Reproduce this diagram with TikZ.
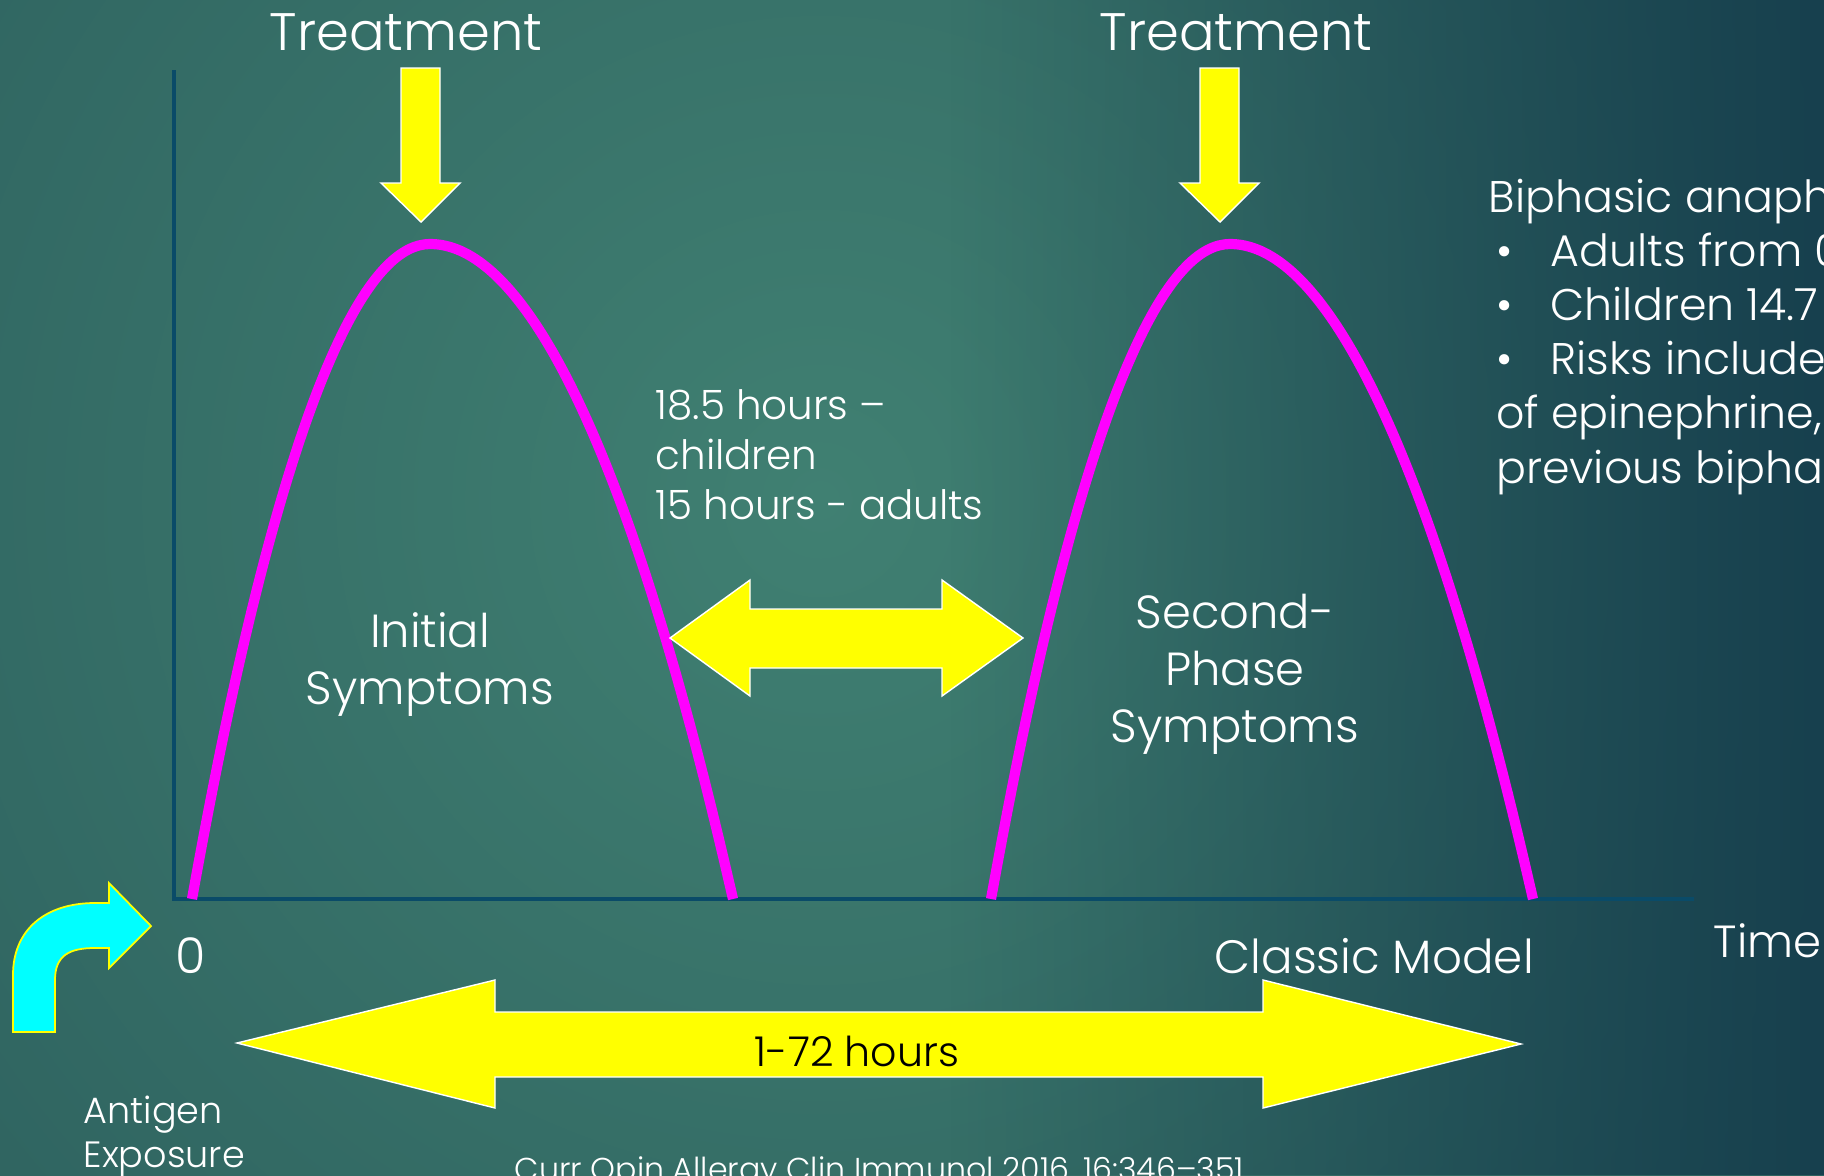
\documentclass[tikz,border=0pt]{standalone}
\usepackage{fontspec}
\setmainfont{Poppins Light}
\usetikzlibrary{positioning, fadings}
\definecolor{bgdark}{HTML}{17404E}
\definecolor{bgmid}{HTML}{285859}
\definecolor{bglight}{HTML}{408072}
\definecolor{axisblue}{HTML}{0A4B68}
\definecolor{peakpink}{HTML}{FF00FF}
\definecolor{fatyellow}{HTML}{FFFF00}
\definecolor{bendcyan}{HTML}{00FFFF}
% fat yellow arrow pointing down at a peak, #1 = x of its tip
\newcommand{\dosearrow}[1]{%
  \filldraw[fatyellow, draw=white, line width=0.4pt]
    (#1-20,68) -- (#1+19,68) -- (#1+19,183) -- (#1+39,183) -- (#1,222)
    -- (#1-40,183) -- (#1-20,183) -- cycle;}

\begin{document}
\begin{tikzpicture}[x=0.01cm, y=-0.01cm,
      lbl/.style={text=white, inner sep=0pt, anchor=base},
      big/.style={lbl, font=\fontsize{13.2}{16.2}\selectfont, align=center},
      small/.style={lbl, font=\fontsize{11.5}{14.2}\selectfont, align=left},
      axis/.style={draw=axisblue, line width=1.4pt},
      peak/.style={draw=peakpink, line width=2.9pt},
      fat/.style={fill=fatyellow, draw=white, line width=0.4pt}]
    \useasboundingbox (0,0) rectangle (1824,1175);
    \clip (0,0) rectangle (1824,1175);
    % background
    \fill[bgmid] (0,0) rectangle (1824,1175);
    \shade[inner color=bglight, outer color=bgmid] (820,500) circle (1550);
    \fill[bgdark, path fading=west] (950,0) rectangle (1824,1175);
    % axes
    \draw[axis] (174,70) -- (174,899) -- (1694,899);
    % the two phases
    \draw[peak] (192,899) parabola bend (430,244) (733,899);
    \draw[peak] (991,899) parabola bend (1230,244) (1533,899);
    \dosearrow{421}
    \dosearrow{1220}
    \node[big, font=\fontsize{15}{16}\selectfont] (treat1) at (406,50) {Treatment};
    \node[big, font=\fontsize{15}{16}\selectfont] (treat2) at (1236,50) {Treatment};
    \node[big] (initial) at (430,704) {Initial\\Symptoms};
    \node[big] (second) at (1235,742) {Second-\\Phase\\Symptoms};
    % gap between phases
    \fill[fat] (670,638) -- (750,580) -- (750,609) -- (942,609) -- (942,580)
      -- (1023,638) -- (942,696) -- (942,668) -- (750,668) -- (750,696) -- cycle;
    \node[small, anchor=base west] (gap) at (655,519)
      {18.5 hours --\\children\\15 hours - adults};
    % whole span
    \fill[fat] (237,1043) -- (495,980) -- (495,1012) -- (1263,1012) -- (1263,980)
      -- (1521,1044) -- (1263,1108) -- (1263,1077) -- (495,1077) -- (495,1108) -- cycle;
    \node[lbl, text=black, font=\fontsize{11.7}{14}\selectfont] (span) at (857,1066) {1-72 hours};
    % exposure
    \filldraw[fill=bendcyan, draw=fatyellow, line width=0.5pt]
      (13,1032) -- (13,975) .. controls (13,930) and (45,903) .. (95,903)
      -- (109,903) -- (109,883) -- (151,926) -- (109,968) -- (109,948) -- (95,948)
      .. controls (70,948) and (55,955) .. (55,980) -- (55,1032) -- cycle;
    \node[lbl, font=\fontsize{14}{16}\selectfont] (zero) at (191,973) {0};
    \node[small, anchor=base west, font=\fontsize{10.4}{12.5}\selectfont] (antigen) at (83,1167)
      {Antigen\\Exposure};
    \node[lbl, anchor=base west, font=\fontsize{13.3}{16}\selectfont] (classic) at (1214,973) {Classic Model};
    \node[lbl, anchor=base west, font=\fontsize{12.8}{16}\selectfont] (time) at (1713,957) {Time};
    % side notes
    \node[small, anchor=base west, font=\fontsize{12.6}{15.4}\selectfont] (notes) at (1488,483)
      {Biphasic anaph\\
       \makebox[17.6pt][l]{\,\textbullet}Adults from 0\\
       \makebox[17.6pt][l]{\,\textbullet}Children 14.7\\
       \makebox[17.6pt][l]{\,\textbullet}Risks include:\\
       \,of epinephrine,\\
       \,previous bipha};
    \node[lbl, anchor=base west, font=\fontsize{9}{10}\selectfont] (cite) at (514,1180)
      {Curr Opin Allergy Clin Immunol 2016, 16:346--351};
\end{tikzpicture}
\end{document}
